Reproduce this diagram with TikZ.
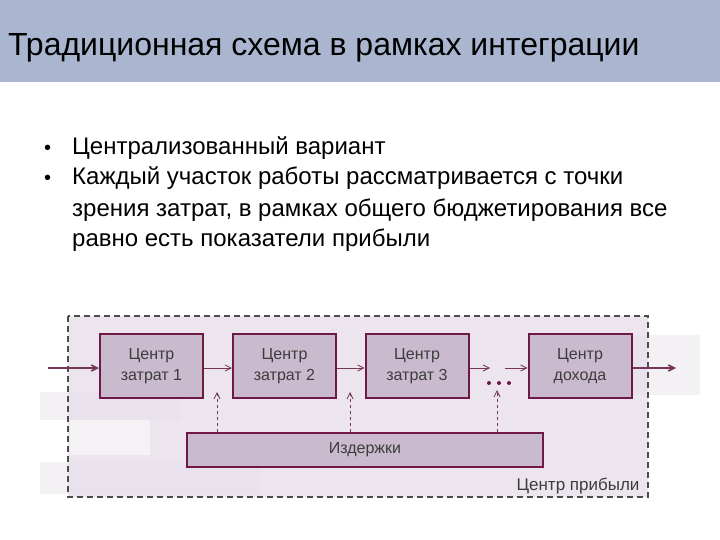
\documentclass[tikz,border=0pt]{standalone}
\usepackage{fontspec}
\setmainfont{Liberation Sans}
\newfontfamily\slidefont{Liberation Sans}
\usepackage{xcolor}
\usetikzlibrary{arrows.meta,positioning}
\definecolor{TitleBand}{RGB}{170,182,208}
\definecolor{BoxFill}{RGB}{202,186,206}
\definecolor{BoxEdge}{RGB}{112,24,72}
\definecolor{Brush}{RGB}{236,229,238}
\definecolor{BoxText}{RGB}{60,60,60}
\tikzset{
  centerbox/.style={draw=BoxEdge, fill=BoxFill, line width=2pt,
    minimum width=103pt, minimum height=64pt, align=center,
    text=BoxText, font=\slidefont\fontsize{16}{21}\selectfont},
  costbar/.style={draw=BoxEdge, fill=BoxFill, line width=2pt,
    minimum width=356pt, minimum height=34pt,
    text=BoxText, font=\slidefont\fontsize{16}{20}\selectfont},
  flow/.style={draw=BoxEdge!70!gray, line width=0.8pt, -{Straight Barb[length=6pt,width=6pt]}},
  costflow/.style={draw=BoxEdge!70!gray, line width=0.8pt, dashed, -{Straight Barb[length=6pt,width=6pt]}},
  bullettext/.style={anchor=base west, inner sep=0pt, font=\slidefont\fontsize{24}{28}\selectfont},
  bulletdot/.style={anchor=base west, inner sep=0pt, font=\slidefont\fontsize{20}{24}\selectfont},
}
\begin{document}
\begin{tikzpicture}[x=1pt,y=-1pt]
  \useasboundingbox (0,0) rectangle (720,540);
  \fill[white] (0,0) rectangle (720,540);

  % Title band
  \fill[TitleBand] (0,0) rectangle (720,82);
  \node[anchor=base west, inner sep=0pt, font=\slidefont\fontsize{32}{38}\selectfont] (title) at (8,56)
    {Традиционная схема в рамках интеграции};

  % Bullet points
  \node[bulletdot] (dotA) at (44,155) {•};
  \node[bullettext] (lineA) at (72,155) {Централизованный вариант};
  \node[bulletdot] (dotB) at (44,185) {•};
  \node[bullettext] (lineB) at (72,185) {Каждый участок работы рассматривается с точки};
  \node[bullettext] (lineC) at (72,217) {зрения затрат, в рамках общего бюджетирования все};
  \node[bullettext] (lineD) at (72,246) {равно есть показатели прибыли};

  % Pale brush strokes behind the diagram
  \fill[Brush] (68,316) rectangle (648,497);
  \fill[Brush!80!BoxFill, opacity=0.4] (40,392) rectangle (180,420);
  \fill[Brush!80!BoxFill, opacity=0.4] (40,462) rectangle (260,494);
  \fill[Brush!80!BoxFill, opacity=0.4] (560,335) rectangle (700,395);
  \fill[white, opacity=0.5] (70,420) rectangle (150,455);

  % Profit centre frame
  \draw[dashed, line width=1.2pt, dash pattern=on 6pt off 4pt, draw=black!70] (68,316) rectangle (648,497);
  \node[anchor=base east, text=BoxText, font=\slidefont\fontsize{17}{20}\selectfont] (profit) at (643,490) {Центр прибыли};

  % Centres
  \node[centerbox] (costA) at (151.5,366) {Центр\\затрат 1};
  \node[centerbox] (costB) at (284.5,366) {Центр\\затрат 2};
  \node[centerbox] (costC) at (417,366) {Центр\\затрат 3};
  \node[centerbox] (income) at (580,366) {Центр\\дохода};
  \node[costbar] (expenses) at (365,450) {Издержки};

  % Dots between centres
  \fill[BoxEdge] (489,383) circle (2pt);
  \fill[BoxEdge] (499,383) circle (2pt);
  \fill[BoxEdge] (509,383) circle (2pt);
  \coordinate (gapL) at (490,368);
  \coordinate (gapR) at (505,368);

  % Flow of work
  \coordinate (inflow) at (48,368);
  \coordinate (outflow) at (676,368);
  \draw[flow, line width=1.6pt] (inflow) -- (costA.west |- inflow);
  \draw[flow] (costA.east |- inflow) -- (costB.west |- inflow);
  \draw[flow] (costB.east |- inflow) -- (costC.west |- inflow);
  \draw[flow] (costC.east |- inflow) -- (gapL);
  \draw[flow] (gapR) -- (income.west |- inflow);
  \draw[flow, line width=1.6pt] (income.east |- inflow) -- (outflow);

  % Expenses feed the gaps
  \coordinate (feedA) at (217,392);
  \coordinate (feedB) at (350,392);
  \coordinate (feedC) at (497,390);
  \draw[costflow] (expenses.north -| feedA) -- (feedA);
  \draw[costflow] (expenses.north -| feedB) -- (feedB);
  \draw[costflow] (expenses.north -| feedC) -- (feedC);
\end{tikzpicture}
\end{document}
